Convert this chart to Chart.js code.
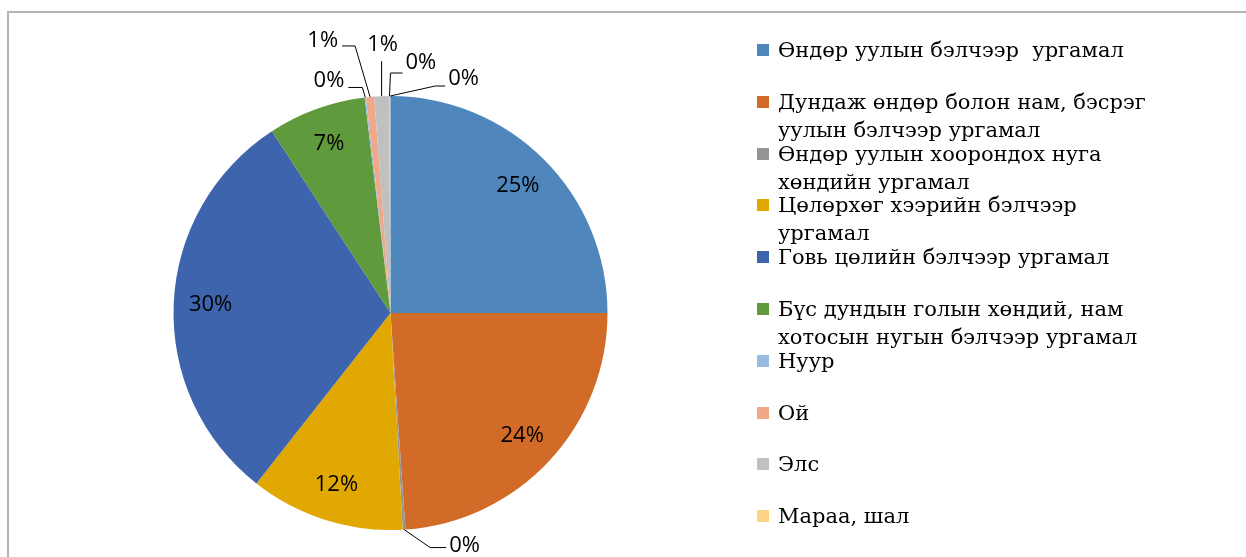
<!DOCTYPE html>
<html>
<head>
<meta charset="utf-8">
<script src="https://cdn.jsdelivr.net/npm/chart.js@4"></script>
<style>
  html, body { margin: 0; padding: 0; background: #fff; }
  body { width: 1246px; height: 557px; overflow: hidden; position: relative; }
  #frame { position: absolute; left: 7px; top: 11px; width: 1400px; height: 700px; border-left: 2px solid #b4b4b4; border-top: 2px solid #b4b4b4; }
  #chartBox { position: absolute; left: 0; top: 0; width: 1246px; height: 557px; }
  #legend { position: absolute; left: 757px; top: 36px; width: 480px; font-family: "DejaVu Serif", serif; font-size: 21px; color: #000; }
  .legend-item { position: relative; height: 51.8px; }
  .legend-box { position: absolute; left: 0; top: 8px; width: 12px; height: 12px; }
  .legend-text { position: absolute; left: 21px; top: 0; width: 378px; line-height: 28px; white-space: pre-wrap; }
</style>
</head>
<body>
<div id="frame"></div>
<div id="chartBox"><canvas id="pieChart"></canvas></div>
<div id="legend"></div>
<script>
const categories = [
  "Өндөр уулын бэлчээр  ургамал",
  "Дундаж өндөр болон нам, бэсрэг уулын бэлчээр ургамал",
  "Өндөр уулын хоорондох нуга хөндийн ургамал",
  "Цөлөрхөг хээрийн бэлчээр ургамал",
  "Говь цөлийн бэлчээр ургамал",
  "Бүс дундын голын хөндий, нам хотосын нугын бэлчээр ургамал",
  "Нуур",
  "Ой",
  "Элс",
  "Мараа, шал",
  "",
];
const shares = [25.0, 23.9, 0.2, 11.5, 30.2, 7.3, 0.1, 0.6, 1.1, 0.05, 0.05];
const colors = [
  "#4f87bd", "#d36b28", "#959595", "#e0a800", "#3e64ad", "#5f9b3c",
  "#98bbe0", "#f0a88a", "#c0c0c0", "#ffd382", "#8aa3d6",
];

// leader lines for the thin slices: elbow / end offsets from the slice's outer edge
const leaders = {
  2: { elbow: [26, 18], end: [42, 18], text: [3, -2], align: "left" },
  6: { elbow: [-3, -10], end: [-17, -10], text: [-4, -7], align: "right" },
  7: { elbow: [-15, -51], end: [-28, -51], text: [-4, -5], align: "right" },
  8: { elbow: [0, -35], end: [0, -35], text: [1, -16], align: "center" },
  9: { elbow: [1, -23], end: [13, -23], text: [3, -10], align: "left" },
  10: { elbow: [45, -10], end: [55, -10], text: [3, -7], align: "left" },
};

const labelFont = "22px 'Open Sans', sans-serif";

const pieLabels = {
  id: "pieLabels",
  afterDatasetsDraw(chart) {
    const ctx = chart.ctx;
    const meta = chart.getDatasetMeta(0);
    const total = shares.reduce((a, b) => a + b, 0);
    ctx.save();
    ctx.font = labelFont;
    ctx.fillStyle = "#000";
    ctx.strokeStyle = "#000";
    ctx.lineWidth = 1;
    ctx.textBaseline = "middle";
    meta.data.forEach((arc, i) => {
      const text = Math.round((shares[i] / total) * 100) + "%";
      const mid = (arc.startAngle + arc.endAngle) / 2;
      const leader = leaders[i];
      if (!leader) {
        const r = arc.outerRadius * 0.83;
        ctx.textAlign = "center";
        ctx.fillText(text, arc.x + Math.cos(mid) * r, arc.y + Math.sin(mid) * r);
        return;
      }
      const ox = arc.x + Math.cos(mid) * arc.outerRadius;
      const oy = arc.y + Math.sin(mid) * arc.outerRadius;
      const ex = ox + leader.end[0];
      const ey = oy + leader.end[1];
      ctx.beginPath();
      ctx.moveTo(ox, oy);
      ctx.lineTo(ox + leader.elbow[0], oy + leader.elbow[1]);
      ctx.lineTo(ex, ey);
      ctx.stroke();
      ctx.textAlign = leader.align;
      ctx.fillText(text, ex + leader.text[0], ey + leader.text[1]);
    });
    ctx.restore();
  },
};

function buildLegend() {
  const legend = document.getElementById("legend");
  legend.innerHTML = categories
    .map((name, i) =>
      name === ""
        ? ""
        : `<div class="legend-item">
            <div class="legend-box" style="background:${colors[i]}"></div>
            <div class="legend-text">${name}</div>
          </div>`
    )
    .join("");
}

function drawChart() {
  const ctx = document.getElementById("pieChart").getContext("2d");
  new Chart(ctx, {
    type: "pie",
    data: {
      labels: categories,
      datasets: [
        {
          data: shares,
          backgroundColor: colors,
          borderWidth: 0,
          hoverOffset: 0,
        },
      ],
    },
    options: {
      responsive: true,
      maintainAspectRatio: false,
      animation: false,
      layout: {
        padding: { left: 173, top: 96, right: 638, bottom: 27 },
      },
      plugins: {
        legend: { display: false },
        tooltip: { enabled: false },
      },
    },
    plugins: [pieLabels],
  });
}

buildLegend();
drawChart();
</script>
</body>
</html>
